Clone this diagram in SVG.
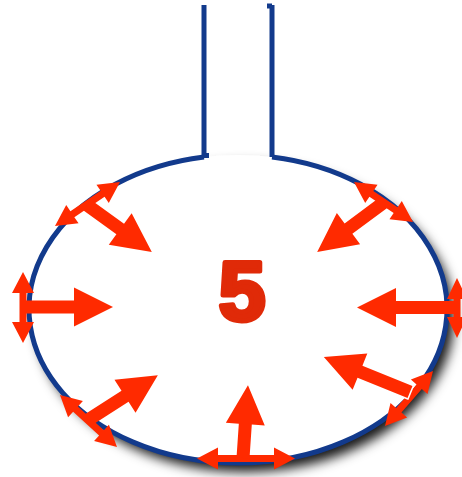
<svg xmlns="http://www.w3.org/2000/svg" width="462" height="477" viewBox="0 0 462 477">
<defs>
<style>
.outline{fill:none;stroke:#123a8c;stroke-width:5;stroke-linecap:butt}
.arr{fill:#ff2a00}
.num{font-family:"Liberation Sans",Arial,sans-serif;font-weight:bold;font-size:84px;fill:#e02a08;stroke:#e02a08;stroke-width:5;stroke-linejoin:round}
</style>
<filter id="sh" x="-20%" y="-20%" width="150%" height="150%">
<feDropShadow dx="7" dy="9" stdDeviation="6" flood-color="#000" flood-opacity="0.9"/>
</filter>
</defs>
<rect width="462" height="477" fill="#fff"/>
<g id="flask">
<ellipse cx="238" cy="309" rx="209" ry="154" fill="#fff" filter="url(#sh)"/>
<path class="outline" d="M204,157 A209,154 0 1,0 272,157"/>
<path class="outline" d="M204,5 V157 M201.5,155.5 H209 M272,5 V157 M267,6 H272"/>
</g>
<g id="label">
<text class="num" x="242" y="320" text-anchor="middle">5</text>
</g>
<g id="arrows">
<g id="boundary-arrows">
<path class="arr" transform="translate(87.5,204) rotate(-34.1)" d="M-39.25,0 L-18.25,-11 V-3.5 H18.25 V-11 L39.25,0 L18.25,11 V3.5 H-18.25 V11 Z"/>
<path class="arr" transform="translate(383.5,202) rotate(34.1)" d="M-35.65,0 L-14.65,-11 V-3.5 H14.65 V-11 L35.65,0 L14.65,11 V3.5 H-14.65 V11 Z"/>
<path class="arr" transform="translate(23,307.5) rotate(90)" d="M-35.5,0 L-14.5,-11 V-3.5 H14.5 V-11 L35.5,0 L14.5,11 V3.5 H-14.5 V11 Z"/>
<path class="arr" transform="translate(457,308) rotate(90)" d="M-30,0 L-9,-10 V-3.5 H9 V-10 L30,0 L9,10 V3.5 H-9 V10 Z"/>
<path class="arr" transform="translate(88.5,421) rotate(42.4)" d="M-38.6,0 L-17.6,-11 V-3.5 H17.6 V-11 L38.6,0 L17.6,11 V3.5 H-17.6 V11 Z"/>
<path class="arr" transform="translate(246,458.5)" d="M-49,0 L-28,-11 V-3.5 H28 V-11 L49,0 L28,11 V3.5 H-28 V11 Z"/>
<path class="arr" transform="translate(409,398.5) rotate(-48.9)" d="M-36.5,0 L-15.5,-11 V-3.5 H15.5 V-11 L36.5,0 L15.5,11 V3.5 H-15.5 V11 Z"/>
</g>
<g id="inward-arrows">
<path class="arr" transform="translate(87,205) rotate(35.9)" d="M0,-6.5 H41 V-19.5 L80,0 L41,19.5 V6.5 H0 Z"/>
<path class="arr" transform="translate(383,203) rotate(143.4)" d="M0,-6.5 H43 V-19.5 L82,0 L43,19.5 V6.5 H0 Z"/>
<path class="arr" transform="translate(23,307)" d="M0,-6.5 H51 V-19.5 L90,0 L51,19.5 V6.5 H0 Z"/>
<path class="arr" transform="translate(458,307.5) rotate(180)" d="M0,-6.5 H62 V-19.5 L101,0 L62,19.5 V6.5 H0 Z"/>
<path class="arr" transform="translate(88,420) rotate(-32.7)" d="M0,-6.5 H44 V-19.5 L83,0 L44,19.5 V6.5 H0 Z"/>
<path class="arr" transform="translate(243,458) rotate(-86.1)" d="M0,-6.5 H34 V-19.5 L73,0 L34,19.5 V6.5 H0 Z"/>
<path class="arr" stroke="#fff" stroke-width="3" paint-order="stroke" transform="translate(410,392) rotate(-157.9)" d="M0,-6.5 H54 V-19.5 L93,0 L54,19.5 V6.5 H0 Z"/>
</g>
</g>
</svg>
